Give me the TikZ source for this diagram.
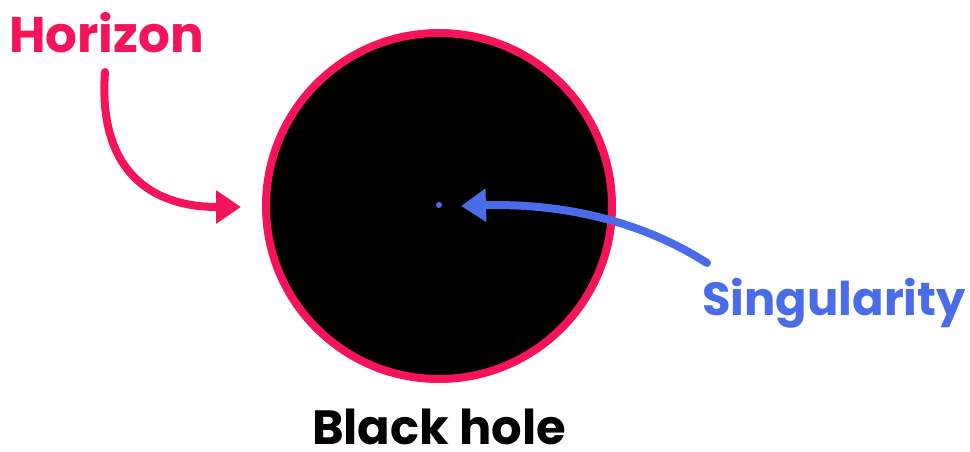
\documentclass[tikz,border=0pt]{standalone}
\usepackage{fontspec}
\setmainfont{Poppins}
\usetikzlibrary{arrows.meta}
\definecolor{hred}{RGB}{245,20,90}
\definecolor{sblue}{RGB}{74,108,232}
\tikzset{
  lbl/.style={font=\bfseries, inner sep=0pt, anchor=base west},
  arr/.style={line width=8pt, line cap=round, -{Triangle[length=25pt,width=32pt]}}
}
\begin{document}
\begin{tikzpicture}[x=1pt,y=-1pt]
\useasboundingbox (0,0) rectangle (970,452);
\node[circle, draw=hred, fill=black, line width=8pt, minimum size=346pt, inner sep=0pt] (bh) at (439,206) {};
\node[circle, fill=sblue, minimum size=6pt, inner sep=0pt] (sing) at (439,205) {};
\node[lbl, text=hred, font=\fontsize{50}{52}\selectfont\bfseries] (hor) at (9,53) {Horizon};
\node[lbl, text=sblue, font=\fontsize{46.5}{50}\selectfont\bfseries] (stext) at (702,315) {Singularity};
\node[lbl, text=black, text depth=0pt, font=\fontsize{48}{50}\selectfont\bfseries] (bht) at (312,444.5) {Black hole};
\coordinate (hstart) at (105,72);
\coordinate (htip) at (241,207);
\coordinate (sstart) at (707,263);
\coordinate (stip) at (461,206);
\draw[arr, hred] (hstart) .. controls (98,170) and (150,207) .. (htip);
\draw[arr, sblue] (sstart) .. controls (640,220) and (560,203) .. (stip);
\end{tikzpicture}
\end{document}
